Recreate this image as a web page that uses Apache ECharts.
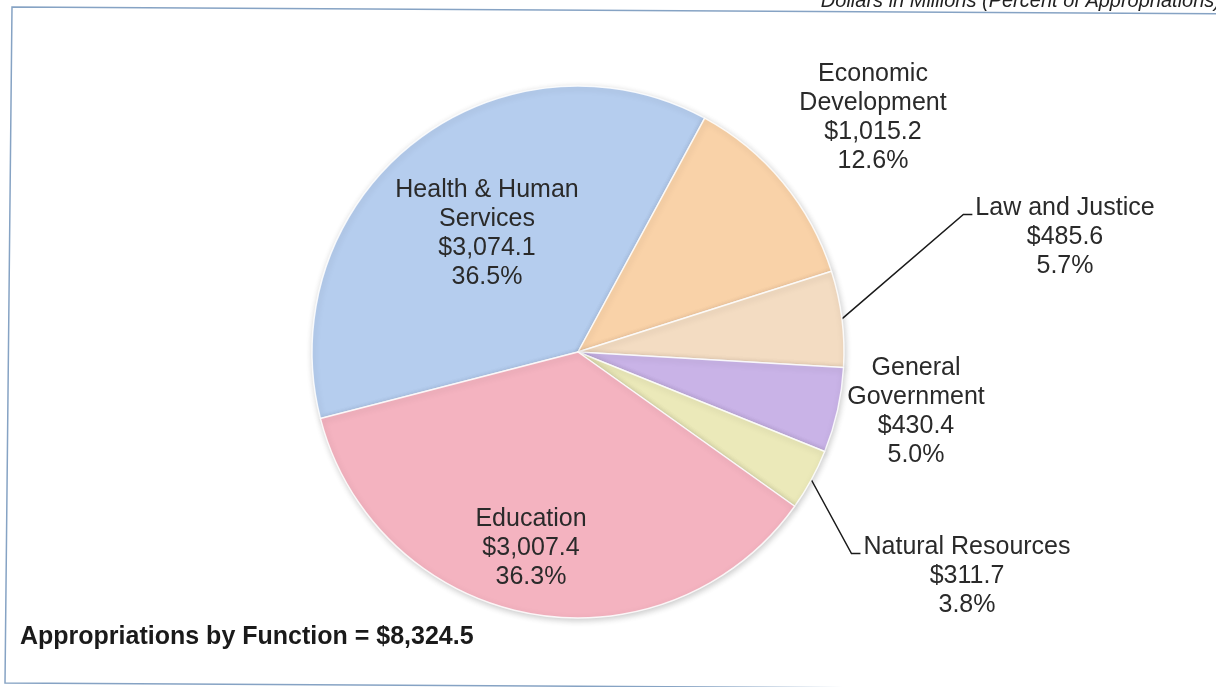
<!DOCTYPE html>
<html>
<head>
<meta charset="utf-8">
<script src="https://cdn.jsdelivr.net/npm/echarts@6/dist/echarts.min.js"></script>
<style>
  html, body { margin: 0; padding: 0; background: #ffffff; }
  #chart { width: 1216px; height: 687px; }
</style>
</head>
<body>
<div id="chart"></div>
<script>
// ---- data ----
const categories = ['Health & Human\nServices', 'Economic\nDevelopment', 'Law and Justice', 'General\nGovernment', 'Natural Resources', 'Education'];
const amounts = [3074.1, 1015.2, 485.6, 430.4, 311.7, 3007.4];
const percents = ['36.5', '12.6', '5.7', '5.0', '3.8', '36.3'];
const totalLabel = 'Appropriations by Function = $8,324.5';
const headerLabel = 'Dollars in Millions (Percent of Appropriations)';

// ---- styles / layout ----
const colors = ['#b5cdee', '#f9d2a8', '#f3dcc2', '#c9b3e7', '#ebe9b9', '#f4b3c0'];
const labelCenters = [[487, 234], [873, 118], [1065, 237], [916, 412], [967, 576], [531, 548]];
const withLine = [false, false, true, false, true, false];
const FONT = '"Liberation Sans", Arial, sans-serif';

const chart = echarts.init(document.getElementById('chart'), null, { renderer: 'canvas' });

const data = categories.map((name, i) => ({
  name: name,
  value: amounts[i],
  itemStyle: { color: colors[i] },
  label: { position: (i === 0 || i === 5) ? 'inside' : 'outside' },
  labelLine: { show: withLine[i], length: 20, length2: 10 }
}));

chart.setOption({
  backgroundColor: '#ffffff',
  animation: false,
  graphic: [
    {
      type: 'polygon',
      shape: { points: [[12, 7], [1240, 14], [1240, 690], [5, 683]] },
      style: { fill: 'none', stroke: '#86a3c4', lineWidth: 1.5 },
      z: 0
    },
    {
      type: 'text',
      x: 1221, y: 1,
      style: { text: headerLabel, font: 'italic 20px ' + FONT, fill: '#222', align: 'right', verticalAlign: 'middle' }
    },
    {
      type: 'text',
      x: 20, y: 637,
      style: { text: totalLabel, font: 'bold 25px ' + FONT, fill: '#1a1a1a', align: 'left', verticalAlign: 'middle' }
    }
  ],
  series: [{
    type: 'pie',
    center: [578, 352],
    radius: 266,
    startAngle: 194.5,
    clockwise: true,
    avoidLabelOverlap: false,
    itemStyle: {
      borderColor: 'rgba(255,255,255,0.85)',
      borderWidth: 1.5,
      shadowColor: 'rgba(0,0,0,0.2)',
      shadowBlur: 6,
      shadowOffsetX: 1,
      shadowOffsetY: 2
    },
    label: {
      show: true,
      fontFamily: FONT,
      fontSize: 25,
      lineHeight: 29,
      color: '#2a2a2a',
      align: 'center',
      formatter: function (p) {
        const v = '$' + amounts[p.dataIndex].toLocaleString('en-US', { minimumFractionDigits: 1, maximumFractionDigits: 1 });
        return p.name + '\n' + v + '\n' + percents[p.dataIndex] + '%';
      }
    },
    labelLine: { lineStyle: { color: '#1a1a1a', width: 1.5 } },
    labelLayout: function (p) {
      const c = labelCenters[p.dataIndex];
      const out = { x: c[0], y: c[1], align: 'center', verticalAlign: 'middle' };
      if (withLine[p.dataIndex] && p.labelLinePoints) {
        const w = p.labelRect.width, h = p.labelRect.height;
        const left = c[0] - w / 2, top = c[1] - h / 2;
        const start = p.labelLinePoints[0];
        out.labelLinePoints = [
          [start[0], start[1]],
          [left - 12, top + 21],
          [left - 3, top + 21]
        ];
      }
      return out;
    },
    data: data
  }]
});
</script>
</body>
</html>
